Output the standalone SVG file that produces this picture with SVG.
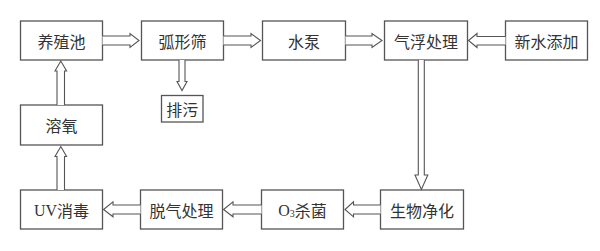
<svg xmlns="http://www.w3.org/2000/svg" width="600" height="251" viewBox="0 0 600 251">
<style>
.box rect{fill:#fff;stroke:#555;stroke-width:1.3}
.box text{font-family:"Noto Sans CJK SC","Liberation Sans",sans-serif;font-size:16px;fill:#333;text-anchor:middle;dominant-baseline:central}
.lat{font-family:"Liberation Serif","Noto Sans CJK SC",serif}
.arr path{fill:#fff;stroke:#555;stroke-width:1.1;stroke-linejoin:miter}
</style>
<rect width="600" height="251" fill="#fff"/>
<g id="n-yangzhichi" class="box"><rect x="20.5" y="21" width="82" height="39"/><text x="61.5" y="40.5">养殖池</text></g>
<g id="n-huxingshai" class="box"><rect x="141.5" y="21" width="82" height="39"/><text x="182.5" y="40.5">弧形筛</text></g>
<g id="n-shuibeng" class="box"><rect x="262.5" y="21" width="83" height="39"/><text x="304" y="40.5">水泵</text></g>
<g id="n-qifu" class="box"><rect x="384.5" y="21" width="83" height="39"/><text x="426" y="40.5">气浮处理</text></g>
<g id="n-xinshui" class="box"><rect x="505.5" y="21" width="82" height="39"/><text x="546.5" y="40.5">新水添加</text></g>
<g id="n-paiwu" class="box"><rect x="161.5" y="95.5" width="41.5" height="26.5"/><text x="182.3" y="108.7">排污</text></g>
<g id="n-rongyang" class="box"><rect x="20.5" y="105" width="82" height="40"/><text x="61.5" y="125">溶氧</text></g>
<g id="n-uv" class="box"><rect x="20.5" y="190" width="82" height="39"/><text x="61.5" y="209.5"><tspan class="lat">UV</tspan>消毒</text></g>
<g id="n-tuoqi" class="box"><rect x="140.5" y="190" width="82" height="39"/><text x="181.5" y="209.5">脱气处理</text></g>
<g id="n-o3" class="box"><rect x="261.5" y="190" width="82" height="39"/><text x="302.5" y="209.5"><tspan class="lat">O</tspan><tspan class="lat" font-size="10" dy="3">3</tspan><tspan dy="-3">杀菌</tspan></text></g>
<g id="n-shengwu" class="box"><rect x="380.5" y="190" width="83" height="39"/><text x="422" y="209.5">生物净化</text></g>
<g id="connectors" class="arr">
<path d="M102.5,36 H130 V33.5 L139,40.5 L130,47.5 V45 H102.5"/>
<path d="M223.5,36 H251 V33.5 L260.5,40.5 L251,47.5 V45 H223.5"/>
<path d="M345.5,36 H372 V33.5 L382,40.5 L372,47.5 V45 H345.5"/>
<path d="M505.5,36.5 H477 V33.5 L468.5,40.5 L477,47.5 V45 H505.5"/>
<path d="M179,60 V81.5 H177 L182,90.5 L187,81.5 H185 V60"/>
<path d="M418.3,60 V175 H415 L421.4,189.5 L427.8,175 H424.3 V60"/>
<path d="M380.5,205 H353.5 V201.8 L345,209.5 L353.5,216.8 V214 H380.5"/>
<path d="M261.5,205 H233 V201.8 L223.5,209.5 L233,216.8 V214 H261.5"/>
<path d="M140.5,205 H113 V201.8 L103.5,209.5 L113,216.8 V214 H140.5"/>
<path d="M57,190 V156.5 H55 L60.8,146.5 L66.6,156.5 H64.5 V190"/>
<path d="M57,105 V71 H55 L60.8,61 L66.6,71 H64.5 V105"/>
</g>
</svg>
